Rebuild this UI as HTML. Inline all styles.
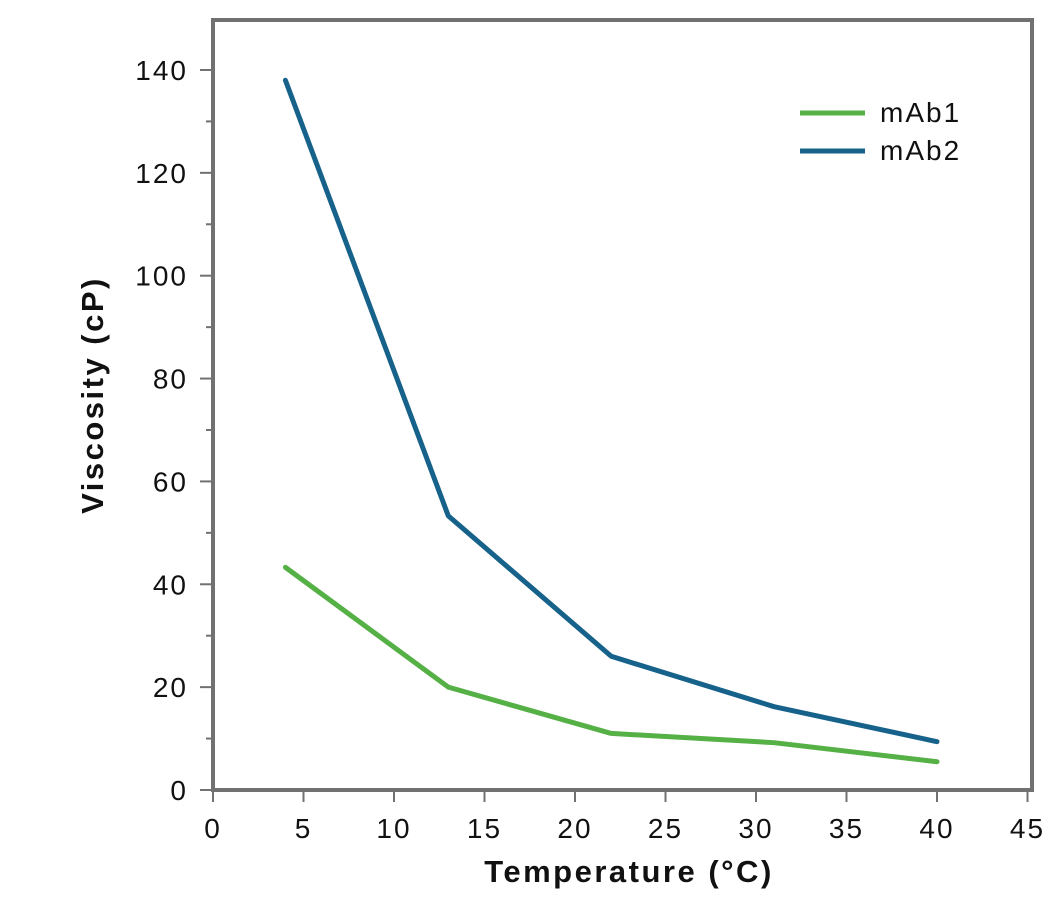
<!DOCTYPE html>
<html><head><meta charset="utf-8"><style>
body{margin:0;background:#fff}
svg text{font-family:"Liberation Sans",sans-serif;fill:#111}
</style></head><body>
<svg width="1050" height="892">
<g id="axes"></g>
<g id="series"></g>
<g>
<line x1="800" y1="113" x2="865" y2="113" stroke="#55b046" stroke-width="5"/>
<text x="880" y="122" font-size="28" letter-spacing="2">mAb1</text>
<line x1="800" y1="151" x2="865" y2="151" stroke="#17628a" stroke-width="5"/>
<text x="880" y="160" font-size="28" letter-spacing="2">mAb2</text>
</g>
<text x="629" y="882" font-size="31" letter-spacing="2.5" font-weight="bold" text-anchor="middle">Temperature (°C)</text>
<text transform="translate(103,395) rotate(-90)" font-size="31" letter-spacing="2.5" font-weight="bold" text-anchor="middle">Viscosity (cP)</text>
</svg>
<script>
const temps=[4,13,22,31,40];
const mab1=[43.3,20,11,9.2,5.5];
const mab2=[138,53.3,26,16.2,9.4];
const xTicks=[0,5,10,15,20,25,30,35,40,45];
const yTicks=[0,20,40,60,80,100,120,140];
const NS="http://www.w3.org/2000/svg";
const X=v=>213+v*18.1, Y=v=>790-v*5.143;
const axes=document.getElementById('axes'), ser=document.getElementById('series');
function mk(tag,attrs,parent){const e=document.createElementNS(NS,tag);for(const k in attrs)e.setAttribute(k,attrs[k]);parent.appendChild(e);return e;}
const fr=mk('rect',{x:213,y:20,width:819,height:770,fill:'none',stroke:'#717171','stroke-width':4},axes);


xTicks.forEach(t=>{
 const l=mk('line',{x1:X(t),x2:X(t),y1:792,y2:802,stroke:'#717171','stroke-width':2},axes);
 
 
 const tx=mk('text',{x:X(t),y:838,'font-size':28,'letter-spacing':2,'text-anchor':'middle'},axes);tx.textContent=t;
 
 
});
for(let v=0;v<=140;v+=10){
 const l=mk('line',{x1:v%20?206:200,x2:211,y1:Y(v),y2:Y(v),stroke:'#717171','stroke-width':2},axes);
 
 
}
yTicks.forEach(t=>{
 const tx=mk('text',{x:188,y:Y(t)+10,'font-size':28,'letter-spacing':2,'text-anchor':'end'},axes);tx.textContent=t;
 
 
});
[[mab2,'#17628a','mab2-line'],[mab1,'#55b046','mab1-line']].forEach(([d,c,n])=>{
 const p=mk('polyline',{points:temps.map((t,i)=>X(t)+','+Y(d[i])).join(' '),fill:'none',stroke:c,'stroke-width':5,'stroke-linejoin':'round','stroke-linecap':'round'},ser);
 
 
});
</script>
</body></html>
